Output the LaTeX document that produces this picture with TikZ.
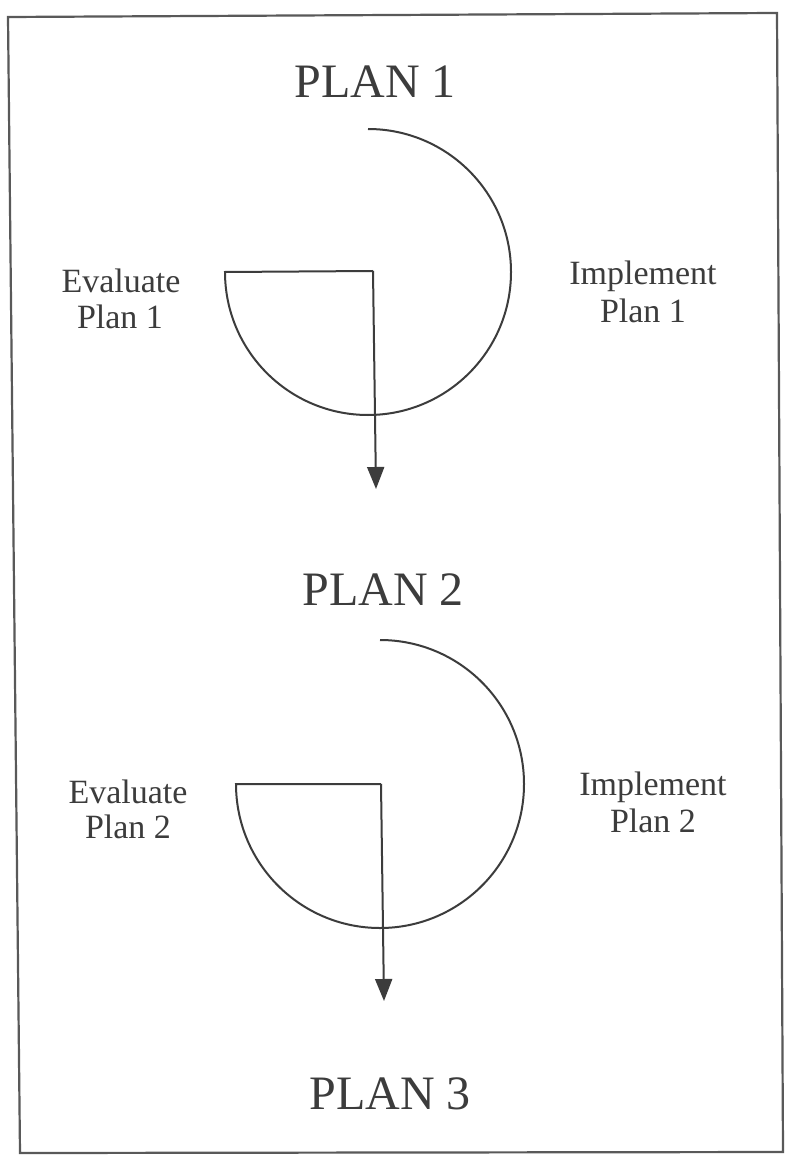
\documentclass[tikz,border=0pt]{standalone}
\usepackage{fontspec}
\setmainfont{Liberation Serif}
\usetikzlibrary{arrows.meta}
\definecolor{ink}{HTML}{3C3C3C}
\tikzset{
  big/.style={anchor=base, inner sep=0pt, text=ink, font=\fontsize{48}{52}\selectfont},
  small/.style={anchor=base, inner sep=0pt, text=ink, font=\fontsize{34}{38}\selectfont},
  loop/.style={draw=ink, line width=2pt},
  flow/.style={draw=ink, line width=2pt, -{Triangle[length=22pt,width=17pt]}},
  frame/.style={draw=ink!85, line width=2.2pt}
}
\begin{document}
\begin{tikzpicture}[x=1pt,y=-1pt]
\useasboundingbox[fill=white] (0,0) rectangle (784,1155);
\draw[frame] (8,17) -- (777,13) -- (783,1152) -- (20,1153) -- cycle;

% labels
\node[big] (p1) at (375,98) {PLAN 1};
\node[big] (p2) at (383,605) {PLAN 2};
\node[big] (p3) at (390,1109) {PLAN 3};

\node[small] (e1a) at (121,292) {Evaluate};
\node[small] (e1b) at (120,328) {Plan 1};
\node[small] (i1a) at (643,285) {Implement};
\node[small] (i1b) at (643,322) {Plan 1};

\node[small] (e2a) at (128,803) {Evaluate};
\node[small] (e2b) at (128,838) {Plan 2};
\node[small] (i2a) at (653,795) {Implement};
\node[small] (i2b) at (653,832) {Plan 2};

% cycle 1
\coordinate (c1) at (373,271);
\coordinate (t1) at (376,489);
\draw[loop] (368,129) arc[start angle=-90, end angle=180, radius=143] -- (c1);
\draw[flow] (c1) -- (t1);

% cycle 2
\coordinate (c2) at (381,784);
\coordinate (t2) at (384,1001);
\draw[loop] (380,640) arc[start angle=-90, end angle=180, radius=144] -- (c2);
\draw[flow] (c2) -- (t2);
\end{tikzpicture}
\end{document}
